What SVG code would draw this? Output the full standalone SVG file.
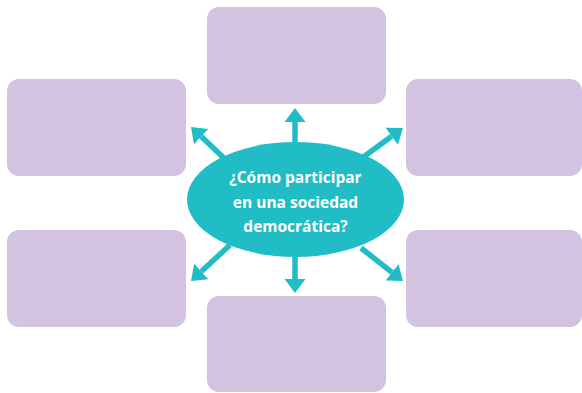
<svg xmlns="http://www.w3.org/2000/svg" width="582" height="393" viewBox="0 0 582 393">
<style>
.box{fill:#D3C3E0;}
.conn{stroke:#21BDC6;stroke-width:5.5;fill:none;marker-end:url(#ah);}
.lbl{font-family:"Open Sans","Noto Sans",sans-serif;font-weight:bold;font-size:15.5px;fill:#FFFFFF;text-anchor:middle;}
</style>
<defs>
<marker id="ah" markerUnits="userSpaceOnUse" markerWidth="16" markerHeight="22" viewBox="0 -11 16 22" refX="0" refY="0" orient="auto">
<path d="M0,-10.5 L14,0 L0,10.5 z" fill="#21BDC6"/>
</marker>
</defs>
<g id="box-top"><rect class="box" x="207" y="7" width="179" height="97" rx="12"/></g>
<g id="box-left-top"><rect class="box" x="7" y="79" width="179" height="97" rx="12"/></g>
<g id="box-right-top"><rect class="box" x="406" y="79" width="176" height="97" rx="12"/></g>
<g id="box-left-bottom"><rect class="box" x="7" y="230" width="179" height="97" rx="12"/></g>
<g id="box-right-bottom"><rect class="box" x="406" y="230" width="176" height="97" rx="12"/></g>
<g id="box-bottom"><rect class="box" x="207" y="296" width="179" height="96" rx="12"/></g>
<g id="connectors">
<line class="conn" x1="295" y1="146" x2="295" y2="122"/>
<line class="conn" x1="295" y1="252" x2="295" y2="279"/>
<line class="conn" x1="226" y1="160" x2="201.2" y2="136.6"/>
<line class="conn" x1="362" y1="158" x2="391.7" y2="136.3"/>
<line class="conn" x1="230" y1="245" x2="201.3" y2="271.5"/>
<line class="conn" x1="361" y1="248" x2="392" y2="272.3"/>
</g>
<g id="center">
<ellipse cx="295.5" cy="199.5" rx="108.5" ry="57.5" fill="#21BDC6"/>
<text class="lbl" x="295.5" y="183">¿Cómo participar</text>
<text class="lbl" x="295.5" y="207.5">en una sociedad</text>
<text class="lbl" x="295.5" y="232">democrática?</text>
</g>
</svg>
